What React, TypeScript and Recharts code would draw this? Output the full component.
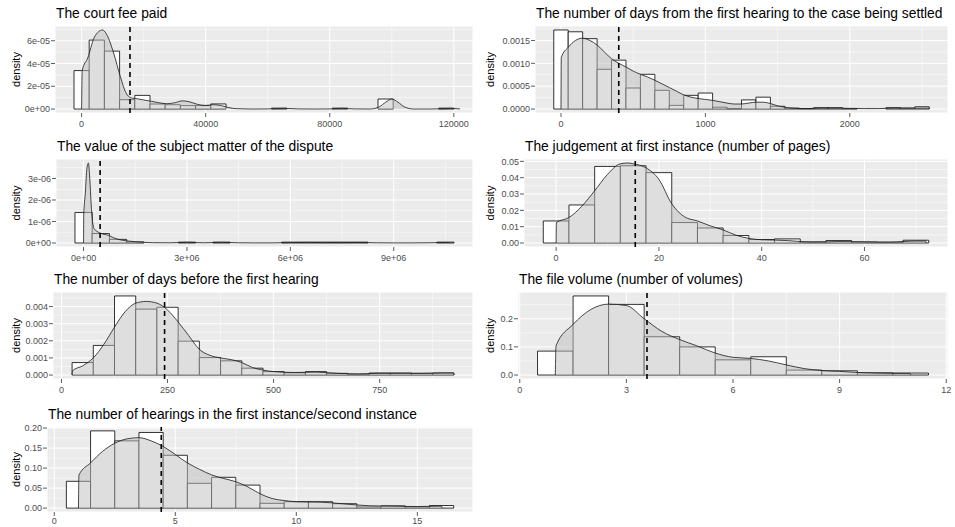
import {ComposedChart, Area, XAxis, YAxis, CartesianGrid, ReferenceArea, ReferenceLine} from "recharts";

// The court fee paid
const feeBinCenters = [0, 4900, 9800, 14700, 19600, 24500, 29400, 34300, 39200, 44100, 63700, 83300, 98000, 117600];
const feeBinHeights = [3.38e-5, 6.06e-5, 5.09e-5, 0.82e-5, 1.2e-5, 0.44e-5, 0.38e-5, 0.3e-5, 0.3e-5, 0.45e-5, 0.08e-5, 0.08e-5, 0.88e-5, 0.08e-5];
const feeBinWidth = 4900;
const feeDensityX = [0, 200, 2000, 4000, 5500, 6700, 8000, 9000, 10000, 11000, 12000, 13000, 14000, 15000, 16500, 18000, 20000, 22500, 25000, 27500, 30000, 32500, 35000, 37500, 40000, 42500, 45000, 47500, 50000, 55000, 60000, 65000, 70000, 75000, 80000, 84000, 88000, 93000, 96000, 98000, 100000, 102000, 104000, 107000, 112000, 117000, 119000, 121000, 121900, 122000];
const feeDensityY = [0, 3.4e-5, 4.5e-5, 6.25e-5, 6.8e-5, 6.95e-5, 6.6e-5, 6.0e-5, 5.2e-5, 4.3e-5, 3.3e-5, 2.4e-5, 1.6e-5, 1.15e-5, 0.95e-5, 0.9e-5, 0.8e-5, 0.68e-5, 0.55e-5, 0.47e-5, 0.55e-5, 0.72e-5, 0.62e-5, 0.4e-5, 0.32e-5, 0.38e-5, 0.3e-5, 0.12e-5, 0.03e-5, 0, 0.01e-5, 0.06e-5, 0.01e-5, 0, 0.01e-5, 0.06e-5, 0.01e-5, 0, 0.2e-5, 0.6e-5, 0.88e-5, 0.6e-5, 0.2e-5, 0, 0, 0.03e-5, 0.06e-5, 0.03e-5, 0.01e-5, 0];
const feeMean = 15600;
const feeXTicks = [0, 40000, 80000, 120000];
const feeXLabels = ["0", "40000", "80000", "120000"];
const feeYTicks = [0, 2e-5, 4e-5, 6e-5];
const feeYLabels = ["0e+00", "2e-05", "4e-05", "6e-05"];

// Days from first hearing to settlement
const settleBinCenters = [0, 100, 200, 300, 400, 500, 600, 700, 800, 900, 1000, 1100, 1200, 1300, 1400, 1500, 1600, 1700, 1800, 1900, 2000, 2300, 2400, 2500];
const settleBinHeights = [0.00173, 0.00169, 0.00154, 0.00087, 0.00107, 0.00046, 0.00076, 0.00041, 0.00008, 0.0003, 0.00035, 0.00004, 0.00001, 0.0002, 0.00026, 0.00006, 0.00002, 0.00001, 0.00003, 0.00003, 0.00001, 0.00003, 0.00002, 0.00005];
const settleBinWidth = 100;
const settleDensityX = [0, 2, 50, 100, 150, 200, 250, 300, 350, 400, 450, 500, 550, 600, 650, 700, 750, 800, 850, 900, 950, 1000, 1050, 1100, 1150, 1200, 1250, 1300, 1350, 1400, 1450, 1500, 1550, 1600, 1700, 1800, 1900, 2000, 2100, 2200, 2300, 2400, 2500, 2548, 2550];
const settleDensityY = [0, 0.00113, 0.00135, 0.0015, 0.00155, 0.0015, 0.0014, 0.00125, 0.0011, 0.001, 0.00092, 0.00083, 0.00076, 0.0007, 0.00063, 0.00055, 0.00047, 0.00039, 0.00031, 0.00026, 0.00023, 0.00021, 0.00019, 0.00016, 0.00013, 0.00011, 0.00011, 0.00013, 0.00015, 0.00015, 0.00012, 0.00007, 0.00004, 0.00002, 0.00001, 0.00002, 0.00002, 0.000015, 0.00001, 0.00001, 0.00002, 0.00002, 0.00002, 0.00002, 0];
const settleMean = 400;
const settleXTicks = [0, 1000, 2000];
const settleXLabels = ["0", "1000", "2000"];
const settleYTicks = [0, 0.0005, 0.001, 0.0015];
const settleYLabels = ["0.0000", "0.0005", "0.0010", "0.0015"];

// Value of the subject matter
const valueBinCenters = [0, 500000, 1000000, 1500000, 3000000, 4000000, 6000000, 6500000, 7000000, 7500000, 8000000, 10500000];
const valueBinHeights = [1.42e-6, 0.44e-6, 0.17e-6, 0.05e-6, 0.04e-6, 0.04e-6, 0.04e-6, 0.04e-6, 0.04e-6, 0.04e-6, 0.04e-6, 0.04e-6];
const valueBinWidth = 500000;
const valueDensityX = [0, 5000, 50000, 100000, 140000, 180000, 220000, 260000, 300000, 380000, 500000, 600000, 720000, 860000, 1000000, 1250000, 1500000, 1750000, 2000000, 2500000, 3000000, 3500000, 4000000, 4500000, 5000000, 5500000, 6000000, 6500000, 7000000, 7500000, 8000000, 8500000, 9000000, 9500000, 10000000, 10500000, 10600000, 10620000];
const valueDensityY = [0, 1.3e-6, 2.3e-6, 3.5e-6, 3.72e-6, 3.0e-6, 1.8e-6, 1.0e-6, 0.68e-6, 0.55e-6, 0.45e-6, 0.4e-6, 0.36e-6, 0.25e-6, 0.17e-6, 0.1e-6, 0.06e-6, 0.03e-6, 0.015e-6, 0.01e-6, 0.03e-6, 0.01e-6, 0.03e-6, 0.01e-6, 0.005e-6, 0.005e-6, 0.02e-6, 0.025e-6, 0.02e-6, 0.02e-6, 0.025e-6, 0.01e-6, 0.005e-6, 0.005e-6, 0.01e-6, 0.025e-6, 0.02e-6, 0];
const valueMean = 480000;
const valueXTicks = [0, 3000000, 6000000, 9000000];
const valueXLabels = ["0e+00", "3e+06", "6e+06", "9e+06"];
const valueYTicks = [0, 1e-6, 2e-6, 3e-6];
const valueYLabels = ["0e+00", "1e-06", "2e-06", "3e-06"];

// Judgement pages
const pagesBinCenters = [0, 5, 10, 15, 20, 25, 30, 35, 40, 45, 50, 55, 60, 65, 70];
const pagesBinHeights = [0.0135, 0.0233, 0.0469, 0.0473, 0.0431, 0.0125, 0.0092, 0.0046, 0.0021, 0.0025, 0.0006, 0.0015, 0.0006, 0.0004, 0.0017];
const pagesBinWidth = 5;
const pagesDensityX = [0, 0.05, 2.5, 5, 7.5, 10, 12.5, 14, 15, 17.5, 20, 22.5, 25, 27.5, 30, 32.5, 35, 37.5, 40, 42.5, 45, 47.5, 50, 52.5, 55, 57.5, 60, 62.5, 65, 67.5, 70, 71.9, 72];
const pagesDensityY = [0, 0.0125, 0.0156, 0.0225, 0.032, 0.042, 0.0485, 0.049, 0.0485, 0.046, 0.039, 0.024, 0.016, 0.0135, 0.0105, 0.008, 0.0048, 0.0028, 0.002, 0.0018, 0.0015, 0.0009, 0.0006, 0.0007, 0.0009, 0.0008, 0.0007, 0.0006, 0.0006, 0.0009, 0.0012, 0.0012, 0];
const pagesMean = 15.4;
const pagesXTicks = [0, 20, 40, 60];
const pagesXLabels = ["0", "20", "40", "60"];
const pagesYTicks = [0, 0.01, 0.02, 0.03, 0.04, 0.05];
const pagesYLabels = ["0.00", "0.01", "0.02", "0.03", "0.04", "0.05"];

// Days before first hearing
const beforeBinCenters = [50, 100, 150, 200, 250, 300, 350, 400, 450, 500, 550, 600, 650, 700, 750, 800, 850, 900];
const beforeBinHeights = [0.00073, 0.00173, 0.00462, 0.00385, 0.00396, 0.00198, 0.00102, 0.00083, 0.0004, 0.0002, 0.00013, 0.0002, 0.0001, 0.00004, 0.00012, 0.00012, 0.0001, 0.00012];
const beforeBinWidth = 50;
const beforeDensityX = [25, 26, 50, 75, 100, 125, 150, 175, 200, 225, 250, 275, 300, 325, 350, 375, 400, 425, 450, 475, 500, 550, 600, 650, 700, 750, 800, 850, 900, 924, 925];
const beforeDensityY = [0, 0.00025, 0.00054, 0.001, 0.0018, 0.0028, 0.0037, 0.0042, 0.0043, 0.0042, 0.0038, 0.0031, 0.0023, 0.0015, 0.00115, 0.001, 0.0009, 0.00073, 0.00044, 0.00029, 0.0002, 0.00015, 0.00017, 0.0001, 0.00007, 0.0001, 0.0001, 0.0001, 0.00012, 0.00012, 0];
const beforeMean = 243;
const beforeXTicks = [0, 250, 500, 750];
const beforeXLabels = ["0", "250", "500", "750"];
const beforeYTicks = [0, 0.001, 0.002, 0.003, 0.004];
const beforeYLabels = ["0.000", "0.001", "0.002", "0.003", "0.004"];

// File volume
const volBinCenters = [1, 2, 3, 4, 5, 6, 7, 8, 9, 10, 11];
const volBinHeights = [0.085, 0.281, 0.251, 0.136, 0.1, 0.054, 0.065, 0.0175, 0.015, 0.008, 0.007];
const volBinWidth = 1;
const volDensityX = [1, 1.02, 1.5, 2, 2.5, 3, 3.5, 4, 4.5, 5, 5.5, 6, 6.5, 7, 7.5, 8, 8.5, 9, 9.5, 10, 10.5, 10.98, 11];
const volDensityY = [0, 0.104, 0.18, 0.233, 0.252, 0.247, 0.2, 0.155, 0.126, 0.103, 0.078, 0.063, 0.059, 0.05, 0.036, 0.023, 0.016, 0.013, 0.009, 0.007, 0.006, 0.006, 0];
const volMean = 3.58;
const volXTicks = [0, 3, 6, 9, 12];
const volXLabels = ["0", "3", "6", "9", "12"];
const volYTicks = [0, 0.1, 0.2];
const volYLabels = ["0.0", "0.1", "0.2"];

// Number of hearings
const hearBinCenters = [1, 2, 3, 4, 5, 6, 7, 8, 9, 10, 11, 12, 13, 14, 15, 16];
const hearBinHeights = [0.067, 0.193, 0.168, 0.189, 0.132, 0.062, 0.077, 0.0575, 0.012, 0.016, 0.016, 0.011, 0.003, 0.0057, 0.003, 0.0065];
const hearBinWidth = 1;
const hearDensityX = [1, 1.02, 1.5, 2, 2.5, 3, 3.5, 4, 4.5, 5, 5.5, 6, 6.5, 7, 7.5, 8, 8.5, 9, 9.5, 10, 11, 12, 13, 14, 15, 16, 16.02];
const hearDensityY = [0, 0.0826, 0.113, 0.142, 0.162, 0.173, 0.176, 0.168, 0.154, 0.134, 0.113, 0.097, 0.083, 0.074, 0.066, 0.053, 0.036, 0.024, 0.019, 0.016, 0.015, 0.0105, 0.006, 0.005, 0.004, 0.005, 0];
const hearMean = 4.42;
const hearXTicks = [0, 5, 10, 15];
const hearXLabels = ["0", "5", "10", "15"];
const hearYTicks = [0, 0.05, 0.1, 0.15, 0.2];
const hearYLabels = ["0.00", "0.05", "0.10", "0.15", "0.20"];

const FONT = "'Liberation Sans', Arial, sans-serif";
const YW = 50;
const MT = 4;
const MR = 14;
const XH = 22;

interface PanelProps {
    title: string;
    left: number;
    top: number;
    w: number;
    h: number;
    cell: number;
    tickGap?: number;
    binCenters: number[];
    binHeights: number[];
    binWidth: number;
    densX: number[];
    densY: number[];
    mean: number;
    xTicks: number[];
    xLabels: string[];
    yTicks: number[];
    yLabels: string[];
}

const minorBreaks = (ticks: number[], lo: number, hi: number) => {
    const step = ticks[1] - ticks[0];
    const out: number[] = [];
    for (let v = ticks[0] - step / 2; v <= hi; v += step) {
        if (v >= lo) out.push(v);
    }
    return out;
};

const Panel = (p: PanelProps) => {
    const data = p.densX.map((x, i) => ({x, y: p.densY[i]}));
    const xLo = p.binCenters[0] - p.binWidth / 2;
    const xHi = p.binCenters[p.binCenters.length - 1] + p.binWidth / 2;
    const xPad = (xHi - xLo) * 0.05;
    const yMax = Math.max(...p.binHeights, ...p.densY);
    const xDomain = [xLo - xPad, xHi + xPad];
    const yDomain = [-yMax * 0.05, yMax * 1.05];
    const xMinor = minorBreaks(p.xTicks, xDomain[0], xDomain[1]);
    const yMinor = minorBreaks(p.yTicks, yDomain[0], yDomain[1]);
    const tickStyle = {fontSize: 9, fill: "#4D4D4D", fontFamily: FONT};

    return (
        <>
            <div style={{position: "absolute", left: p.left - YW, top: p.top - MT}}>
                <ComposedChart width={YW + p.w + MR} height={MT + p.h + XH} data={data}
                               margin={{top: MT, right: MR, left: 0, bottom: 0}}>
                    <CartesianGrid stroke="#fff" strokeWidth={1} fill="#EBEBEB" fillOpacity={1}/>
                    {xMinor.map(v => (
                        <ReferenceLine key={`xm-${v}`} x={v} stroke="#fff" strokeWidth={0.5} zIndex={-90}/>
                    ))}
                    {yMinor.map(v => (
                        <ReferenceLine key={`ym-${v}`} y={v} stroke="#fff" strokeWidth={0.5} zIndex={-90}/>
                    ))}
                    <XAxis dataKey="x" type="number" domain={xDomain} allowDataOverflow ticks={p.xTicks}
                           interval={0} axisLine={false} tickSize={4} tickMargin={p.tickGap ?? 4}
                           tickLine={{stroke: "#333", strokeWidth: 0.8}} tick={tickStyle} height={XH}
                           tickFormatter={(v: number) => p.xLabels[p.xTicks.indexOf(v)] ?? String(v)}/>
                    <YAxis type="number" domain={yDomain} allowDataOverflow ticks={p.yTicks}
                           interval={0} axisLine={false} tickSize={4} tickMargin={1} width={YW}
                           tickLine={{stroke: "#333", strokeWidth: 0.8}} tick={tickStyle}
                           tickFormatter={(v: number) => p.yLabels[p.yTicks.indexOf(v)] ?? String(v)}/>
                    {p.binCenters.map((c, i) => (
                        <ReferenceArea key={`bin-${i}`} x1={c - p.binWidth / 2} x2={c + p.binWidth / 2}
                                       y1={0} y2={p.binHeights[i]} fill="#fff" fillOpacity={1}
                                       stroke="#000" strokeWidth={0.8} zIndex={50}/>
                    ))}
                    <Area dataKey="y" type="monotone" fill="#BEBEBE" fillOpacity={0.5} stroke="#1a1a1a"
                          strokeWidth={0.8} dot={false} activeDot={false} isAnimationActive={false}
                          zIndex={100}/>
                    <ReferenceLine x={p.mean} stroke="#000" strokeWidth={1.6} strokeDasharray="5 4"
                                   zIndex={450}/>
                </ComposedChart>
            </div>
            <svg width={955} height={527} style={{position: "absolute", left: 0, top: 0, pointerEvents: "none"}}>
                <text x={p.left + 1} y={p.top - 8} fontSize={13.8} fill="#000" fontFamily={FONT}>{p.title}</text>
                <text x={p.cell + 19.5} y={p.top + p.h / 2} fontSize={11} fill="#000" fontFamily={FONT}
                      textAnchor="middle" transform={`rotate(-90 ${p.cell + 19.5} ${p.top + p.h / 2})`}>
                    density
                </text>
            </svg>
        </>
    );
};

const App = () => {
    return (
        <div style={{
            position: "absolute", left: 0, top: 0, width: 955, height: 527, overflow: "hidden",
            background: "#fff", fontFamily: FONT
        }}>
            <Panel title="The court fee paid" left={55} top={26} w={418} h={87} cell={0}
                   binCenters={feeBinCenters} binHeights={feeBinHeights} binWidth={feeBinWidth}
                   densX={feeDensityX} densY={feeDensityY} mean={feeMean}
                   xTicks={feeXTicks} xLabels={feeXLabels} yTicks={feeYTicks} yLabels={feeYLabels}/>
            <Panel title="The number of days from the first hearing to the case being settled"
                   left={535} top={26} w={413} h={87} cell={474.5}
                   binCenters={settleBinCenters} binHeights={settleBinHeights} binWidth={settleBinWidth}
                   densX={settleDensityX} densY={settleDensityY} mean={settleMean}
                   xTicks={settleXTicks} xLabels={settleXLabels} yTicks={settleYTicks} yLabels={settleYLabels}/>
            <Panel title="The value of the subject matter of the dispute" left={56} top={159} w={417} h={88} cell={0}
                   binCenters={valueBinCenters} binHeights={valueBinHeights} binWidth={valueBinWidth}
                   densX={valueDensityX} densY={valueDensityY} mean={valueMean}
                   xTicks={valueXTicks} xLabels={valueXLabels} yTicks={valueYTicks} yLabels={valueYLabels}/>
            <Panel title="The judgement at first instance (number of pages)" left={524} top={159} w={424} h={88}
                   cell={474.5}
                   binCenters={pagesBinCenters} binHeights={pagesBinHeights} binWidth={pagesBinWidth}
                   densX={pagesDensityX} densY={pagesDensityY} mean={pagesMean}
                   xTicks={pagesXTicks} xLabels={pagesXLabels} yTicks={pagesYTicks} yLabels={pagesYLabels}/>
            <Panel title="The number of days before the first hearing" left={53} top={292} w={420} h={87} cell={0}
                   binCenters={beforeBinCenters} binHeights={beforeBinHeights} binWidth={beforeBinWidth}
                   densX={beforeDensityX} densY={beforeDensityY} mean={beforeMean}
                   xTicks={beforeXTicks} xLabels={beforeXLabels} yTicks={beforeYTicks} yLabels={beforeYLabels}/>
            <Panel title="The file volume (number of volumes)" left={518} top={292} w={430} h={87} cell={474.5}
                   binCenters={volBinCenters} binHeights={volBinHeights} binWidth={volBinWidth}
                   densX={volDensityX} densY={volDensityY} mean={volMean}
                   xTicks={volXTicks} xLabels={volXLabels} yTicks={volYTicks} yLabels={volYLabels}/>
            <Panel title="The number of hearings in the first instance/second instance" left={47} top={427} w={426}
                   h={85} cell={0} tickGap={2}
                   binCenters={hearBinCenters} binHeights={hearBinHeights} binWidth={hearBinWidth}
                   densX={hearDensityX} densY={hearDensityY} mean={hearMean}
                   xTicks={hearXTicks} xLabels={hearXLabels} yTicks={hearYTicks} yLabels={hearYLabels}/>
        </div>
    );
};

export default App;
